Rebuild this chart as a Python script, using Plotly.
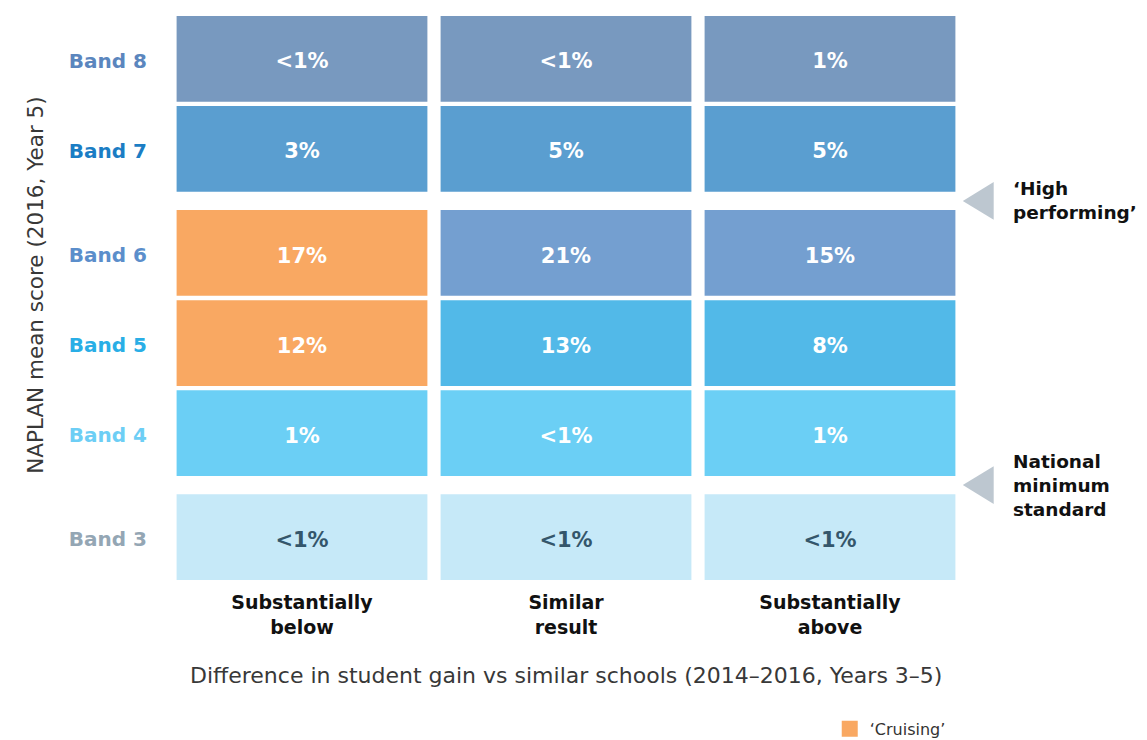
import plotly.graph_objects as go

# categories
columns = ['Substantially below', 'Similar result', 'Substantially above']
column_labels = ['Substantially<br>below', 'Similar<br>result', 'Substantially<br>above']
bands = ['Band 3', 'Band 4', 'Band 5', 'Band 6', 'Band 7', 'Band 8']

# share of schools in each cell, one list per band (columns in order above)
band_3 = ['<1%', '<1%', '<1%']
band_4 = ['1%', '<1%', '1%']
band_5 = ['12%', '13%', '8%']
band_6 = ['17%', '21%', '15%']
band_7 = ['3%', '5%', '5%']
band_8 = ['<1%', '<1%', '1%']
shares = [band_3, band_4, band_5, band_6, band_7, band_8]

# cells flagged as 'Cruising'
cruising = [('Band 5', 'Substantially below'), ('Band 6', 'Substantially below')]

# thresholds sit just below these bands
thresholds = {
    'Band 4': 'National<br>minimum<br>standard',
    'Band 7': '\u2018High<br>performing\u2019',
}

FONT = 'DejaVu Sans'
ORANGE = '#F9A862'
cell_colors = {
    'Band 3': '#C6E9F8', 'Band 4': '#6BCFF5', 'Band 5': '#52B9E8',
    'Band 6': '#749FD0', 'Band 7': '#5A9ED0', 'Band 8': '#7899BF',
}
label_colors = {
    'Band 3': '#94A6B4', 'Band 4': '#6DCEF5', 'Band 5': '#29AEE6',
    'Band 6': '#5B8ECB', 'Band 7': '#1B7DC4', 'Band 8': '#5B86BE',
}
text_colors = {'Band 3': '#34566B'}

CELL_H = 1.0
GAP = 0.05
BIG_GAP = 0.213
TEXT_POS = 0.45   # cell values sit a touch below the middle of the cell
LABEL_POS = 0.48  # band labels too

bases = []
y = 0.0
for i, band in enumerate(bands):
    if i > 0:
        y += BIG_GAP if band in thresholds else GAP
    bases.append(y)
    y += CELL_H
top = y

fig = go.Figure()

for band, base, vals in zip(bands, bases, shares):
    colors = [ORANGE if (band, col) in cruising else cell_colors[band] for col in columns]
    fig.add_trace(go.Bar(
        x=columns,
        y=[CELL_H] * len(columns),
        base=base,
        width=0.95,
        marker=dict(color=colors, line=dict(width=0)),
        showlegend=False,
        hoverinfo='skip',
    ))
    fig.add_trace(go.Scatter(
        x=columns,
        y=[base + CELL_H * TEXT_POS] * len(columns),
        mode='text',
        text=vals,
        textposition='middle center',
        textfont=dict(family=FONT, size=21, weight=700, color=text_colors.get(band, 'white')),
        showlegend=False,
        hoverinfo='skip',
    ))

# legend entry for the orange cells
fig.add_trace(go.Scatter(
    x=[None], y=[None], mode='markers', name='\u2018Cruising\u2019',
    marker=dict(symbol='square', size=23, color=ORANGE),
))

shapes = []
annotations = []
for band, label in thresholds.items():
    ty = bases[bands.index(band)] - BIG_GAP / 2
    shapes.append(dict(
        type='path', xref='paper', yref='y',
        path=f'M 1.001 {ty} L 1.040 {ty + 0.22} L 1.040 {ty - 0.22} Z',
        fillcolor='#BDC7D0', line=dict(width=0),
    ))
    annotations.append(dict(
        xref='paper', yref='y', x=1.062, y=ty, xanchor='left', yanchor='middle',
        text=label, showarrow=False, align='left',
        font=dict(family=FONT, size=18.5, weight=700, color='#111111'),
    ))

annotations.append(dict(
    xref='paper', yref='paper', x=-0.189, y=0.523, textangle=-90,
    text='NAPLAN mean score (2016, Year 5)', showarrow=False,
    font=dict(family=FONT, size=21.5, color='#383838'),
))
annotations.append(dict(
    xref='paper', yref='paper', x=0.5, y=-0.170, yanchor='middle',
    text='Difference in student gain vs similar schools (2014\u20132016, Years 3\u20135)',
    showarrow=False, font=dict(family=FONT, size=22, color='#383838'),
))

# the page body adds an 8px offset, so the figure is sized to leave room for it
fig.update_layout(
    width=1139, height=732,
    margin=dict(l=162, r=185, t=8, b=160, autoexpand=False),
    paper_bgcolor='white', plot_bgcolor='white',
    barmode='overlay',
    shapes=shapes,
    annotations=annotations,
    legend=dict(
        x=0.833, y=-0.264, xanchor='left', yanchor='middle',
        font=dict(family=FONT, size=16, color='#333333'),
        bgcolor='rgba(0,0,0,0)',
    ),
    xaxis=dict(
        type='category', range=[-0.5, 2.5],
        tickvals=columns, ticktext=column_labels,
        tickfont=dict(family=FONT, size=19, weight=700, color='#111111'),
        showgrid=False, zeroline=False, showline=False, ticks='',
        ticklabelstandoff=9,
    ),
    yaxis=dict(
        range=[0, top],
        tickvals=[b + CELL_H * LABEL_POS for b in bases],
        ticktext=[f'<span style="color:{label_colors[b]}">{b}</span>' for b in bands],
        tickfont=dict(family=FONT, size=20, weight=700),
        showgrid=False, zeroline=False, showline=False, ticks='',
        ticklabelstandoff=22,
    ),
)

fig.write_html('out.html')
